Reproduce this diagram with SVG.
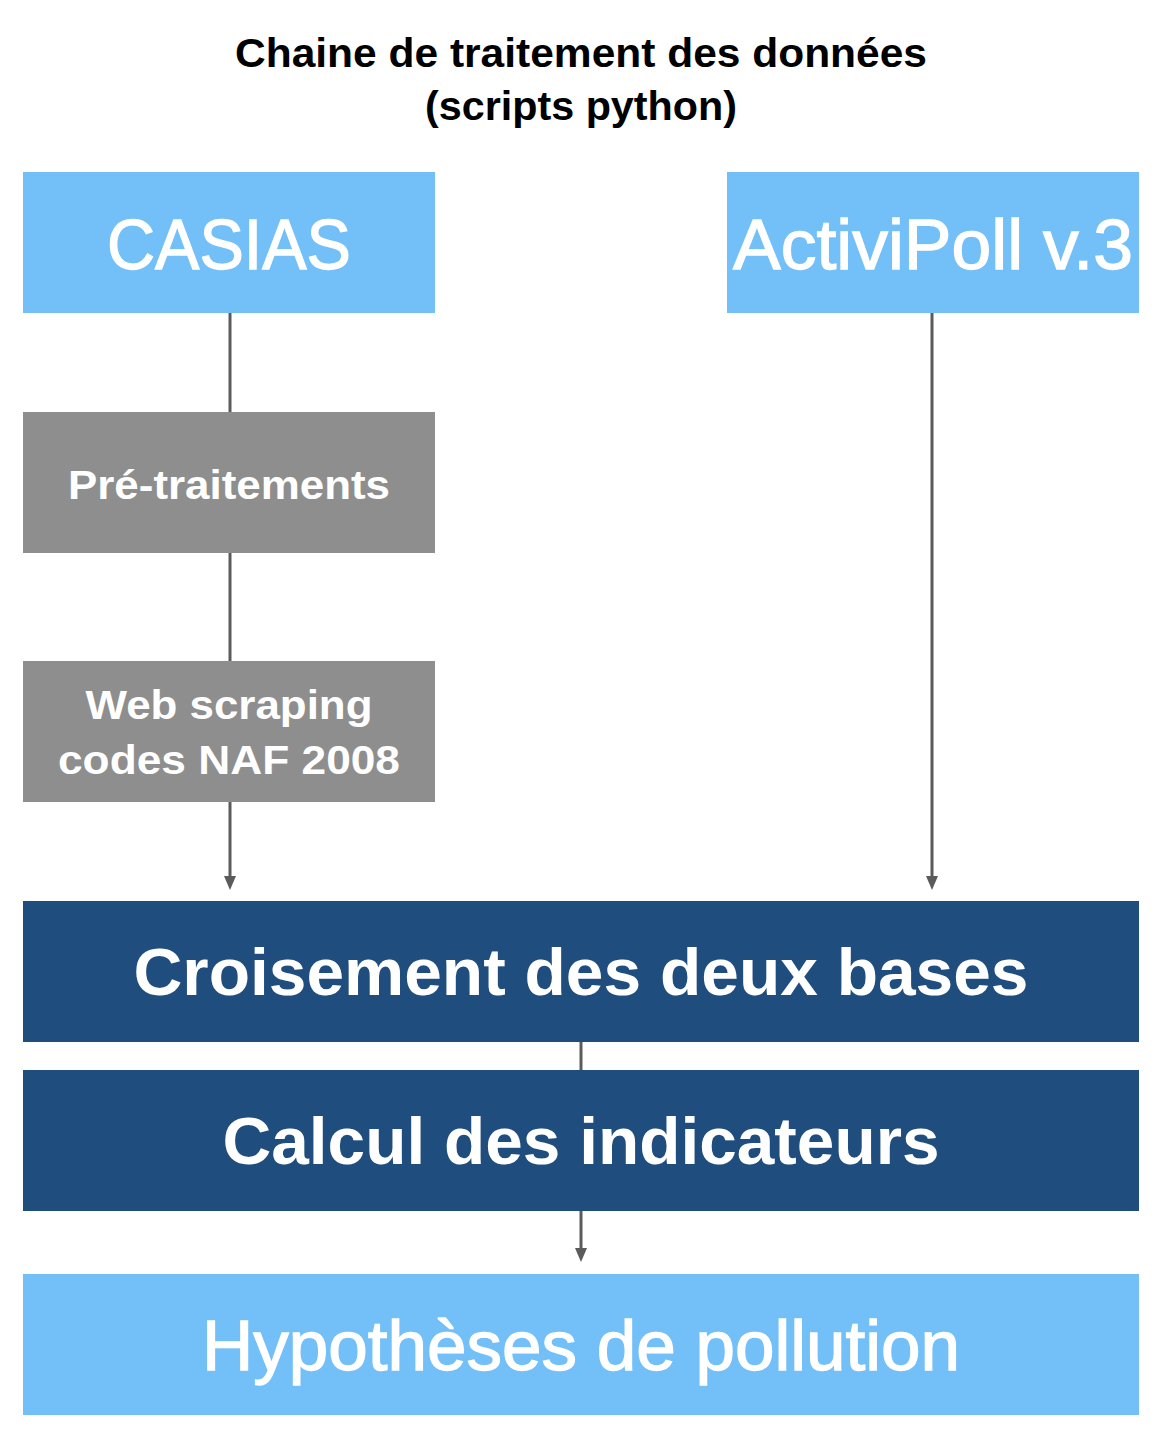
<svg xmlns="http://www.w3.org/2000/svg" width="1168" height="1446" viewBox="0 0 1168 1446">
<style>
.light{fill:#73BFF8}
.gray{fill:#8E8E8E}
.dark{fill:#1F4E7E}
.t{fill:#fff;font-family:"Liberation Sans",Arial,sans-serif;text-anchor:middle}
.r{stroke:#fff;stroke-width:1.3}
.b{font-weight:bold}
.title{fill:#000;font-family:"Liberation Sans",Arial,sans-serif;font-weight:bold;font-size:40px;text-anchor:middle}
.conn{stroke:#5B5B5B;stroke-width:3;fill:none}
.head{fill:#5B5B5B}
</style>
<rect width="1168" height="1446" fill="#fff"/>
<g id="title">
<text class="title" x="581" y="67" textLength="692" lengthAdjust="spacingAndGlyphs">Chaine de traitement des données</text>
<text class="title" x="581" y="120" textLength="312" lengthAdjust="spacingAndGlyphs">(scripts python)</text>
</g>
<g id="connectors">
<line class="conn" x1="230" y1="313" x2="230" y2="412"/>
<line class="conn" x1="230" y1="553" x2="230" y2="661"/>
<path class="conn" d="M230,802 V876"/>
<path class="head" d="M224,876 L236,876 L230,890 Z"/>
<path class="conn" d="M932,313 V876"/>
<path class="head" d="M926,876 L938,876 L932,890 Z"/>
<line class="conn" x1="581" y1="1042" x2="581" y2="1070"/>
<path class="conn" d="M581,1211 V1248"/>
<path class="head" d="M575,1248 L587,1248 L581,1262 Z"/>
</g>
<g id="casias">
<rect class="light" x="23" y="172" width="412" height="141"/>
<text class="t r" x="229" y="269" font-size="70" textLength="244" lengthAdjust="spacingAndGlyphs">CASIAS</text>
</g>
<g id="activipoll">
<rect class="light" x="727" y="172" width="412" height="141"/>
<text class="t r" x="933" y="269" font-size="70" textLength="400" lengthAdjust="spacingAndGlyphs">ActiviPoll v.3</text>
</g>
<g id="pretraitements">
<rect class="gray" x="23" y="412" width="412" height="141"/>
<text class="t b" x="229" y="499" font-size="40" textLength="322" lengthAdjust="spacingAndGlyphs">Pré-traitements</text>
</g>
<g id="webscraping">
<rect class="gray" x="23" y="661" width="412" height="141"/>
<text class="t b" x="229" y="719" font-size="40" textLength="287" lengthAdjust="spacingAndGlyphs">Web scraping</text>
<text class="t b" x="229" y="774" font-size="40" textLength="342" lengthAdjust="spacingAndGlyphs">codes NAF 2008</text>
</g>
<g id="croisement">
<rect class="dark" x="23" y="901" width="1116" height="141"/>
<text class="t b" x="581" y="995" font-size="66" textLength="895" lengthAdjust="spacingAndGlyphs">Croisement des deux bases</text>
</g>
<g id="calcul">
<rect class="dark" x="23" y="1070" width="1116" height="141"/>
<text class="t b" x="581" y="1164" font-size="66" textLength="717" lengthAdjust="spacingAndGlyphs">Calcul des indicateurs</text>
</g>
<g id="hypotheses">
<rect class="light" x="23" y="1274" width="1116" height="141"/>
<text class="t r" x="581" y="1370" font-size="70" textLength="758" lengthAdjust="spacingAndGlyphs">Hypothèses de pollution</text>
</g>
</svg>
